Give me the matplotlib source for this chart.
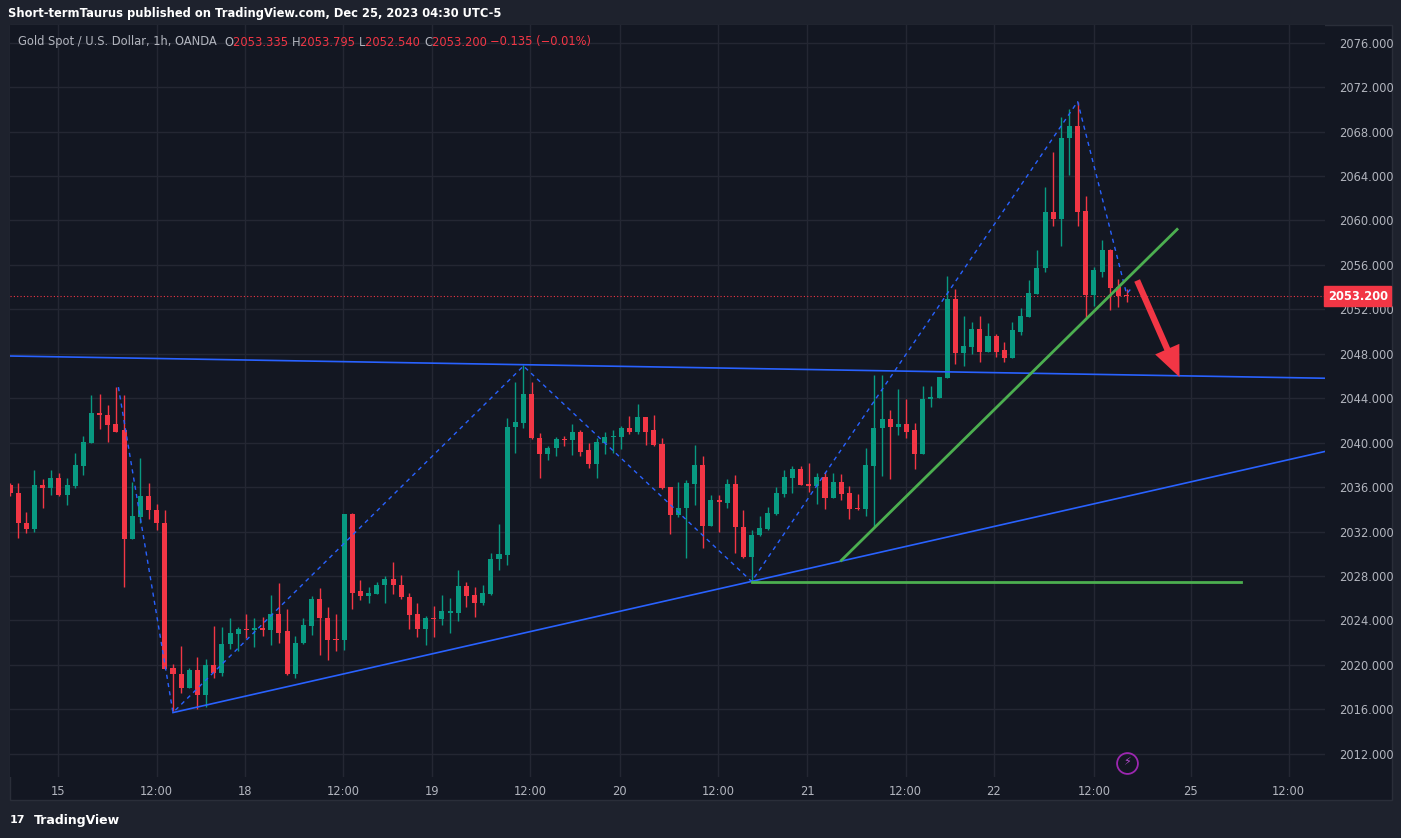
import matplotlib
matplotlib.use('Agg')
import matplotlib.pyplot as plt
from matplotlib.patches import Rectangle
import numpy as np

# hourly OHLC, XAUUSD
opens = [2036.2, 2035.5, 2032.8, 2032.2, 2036.2, 2035.9, 2036.8, 2035.3, 2036.1, 2037.9,
         2040.0, 2042.7, 2042.5, 2041.7, 2041.1, 2031.3, 2033.3, 2035.2, 2033.9, 2032.8,
         2019.7, 2019.2, 2017.9, 2019.5, 2017.3, 2020.0, 2019.3, 2021.9, 2022.8, 2023.2,
         2023.1, 2023.3, 2023.1, 2024.6, 2023.0, 2019.2, 2022.0, 2023.5, 2025.9, 2024.2,
         2022.3, 2022.2, 2033.6, 2026.6, 2026.2, 2026.4, 2027.2, 2027.7, 2027.2, 2026.1,
         2024.6, 2023.2, 2024.2, 2024.1, 2024.7, 2024.7, 2027.1, 2026.3, 2025.6, 2026.4,
         2029.5, 2029.9, 2041.4, 2041.8, 2044.4, 2040.4, 2039.0, 2039.5, 2040.3, 2040.2,
         2041.0, 2039.3, 2038.1, 2040.0, 2040.5, 2040.5, 2041.3, 2041.0, 2042.3, 2041.1,
         2039.9, 2036.0, 2033.5, 2034.1, 2036.3, 2038.0, 2032.5, 2034.8, 2034.6, 2036.3,
         2032.4, 2029.7, 2031.7, 2032.2, 2033.6, 2035.4, 2036.8, 2037.6, 2036.3, 2036.1,
         2036.9, 2035.0, 2036.5, 2035.5, 2034.1, 2034.0, 2037.9, 2041.3, 2042.1, 2041.4,
         2041.7, 2041.1, 2039.0, 2043.9, 2044.0, 2045.8, 2052.9, 2048.1, 2048.6, 2050.2,
         2048.2, 2049.6, 2048.3, 2047.6, 2050.0, 2051.3, 2053.4, 2055.7, 2060.8, 2060.1,
         2067.4, 2068.5, 2060.9, 2053.3, 2055.4, 2057.3, 2054.0, 2053.3]
highs = [2036.4, 2036.4, 2033.8, 2037.5, 2036.7, 2037.5, 2037.3, 2036.8, 2039.1, 2040.6,
         2044.3, 2044.4, 2043.4, 2045.0, 2044.3, 2036.5, 2038.6, 2036.4, 2034.5, 2033.9,
         2020.1, 2021.7, 2019.7, 2020.7, 2020.5, 2023.5, 2023.4, 2024.2, 2023.4, 2024.6,
         2024.2, 2024.3, 2026.3, 2027.4, 2025.0, 2022.6, 2024.2, 2026.2, 2026.9, 2025.2,
         2024.6, 2033.6, 2033.7, 2027.6, 2027.0, 2027.5, 2028.0, 2029.3, 2028.1, 2026.5,
         2025.6, 2024.4, 2025.3, 2026.3, 2026.0, 2028.5, 2027.5, 2027.0, 2027.2, 2030.1,
         2032.7, 2042.2, 2045.5, 2047.0, 2045.5, 2040.9, 2039.7, 2040.5, 2040.6, 2041.7,
         2041.1, 2040.0, 2040.4, 2041.0, 2041.1, 2041.5, 2042.4, 2043.5, 2042.3, 2042.5,
         2040.4, 2036.0, 2036.5, 2036.6, 2039.8, 2038.8, 2035.3, 2035.3, 2036.7, 2037.1,
         2033.9, 2032.1, 2033.4, 2034.2, 2036.0, 2037.5, 2037.9, 2037.9, 2038.2, 2037.3,
         2037.4, 2037.3, 2037.2, 2036.1, 2035.4, 2039.5, 2046.1, 2046.1, 2042.9, 2044.8,
         2043.9, 2041.8, 2045.1, 2045.1, 2045.9, 2055.0, 2053.8, 2051.4, 2050.9, 2051.4,
         2050.8, 2049.8, 2049.1, 2050.9, 2052.1, 2054.6, 2057.3, 2063.0, 2066.2, 2069.3,
         2070.0, 2070.7, 2062.2, 2055.8, 2058.2, 2057.4, 2054.7, 2053.8]
lows = [2035.2, 2031.4, 2031.9, 2032.0, 2034.1, 2035.3, 2035.2, 2034.4, 2035.9, 2037.1,
        2040.0, 2041.2, 2040.1, 2041.0, 2027.0, 2031.3, 2032.8, 2033.1, 2032.1, 2019.6,
        2015.8, 2017.5, 2017.9, 2016.0, 2016.2, 2018.8, 2019.0, 2021.4, 2021.2, 2022.4,
        2021.6, 2022.6, 2021.8, 2022.0, 2019.1, 2018.8, 2021.9, 2022.7, 2020.9, 2020.4,
        2021.2, 2021.3, 2025.0, 2025.8, 2025.6, 2026.4, 2025.6, 2026.4, 2025.9, 2023.2,
        2022.5, 2021.8, 2022.5, 2023.6, 2022.9, 2023.9, 2025.2, 2024.3, 2025.4, 2026.3,
        2028.5, 2029.0, 2039.1, 2041.3, 2040.3, 2036.8, 2038.4, 2038.8, 2039.7, 2038.9,
        2038.8, 2037.7, 2036.8, 2039.0, 2039.1, 2039.4, 2040.8, 2040.8, 2039.8, 2039.7,
        2035.8, 2031.8, 2033.3, 2029.6, 2034.4, 2030.5, 2032.5, 2032.0, 2034.1, 2030.1,
        2029.6, 2027.5, 2031.6, 2032.1, 2033.5, 2035.1, 2035.5, 2036.2, 2035.6, 2034.5,
        2034.0, 2035.0, 2034.8, 2033.1, 2033.9, 2033.4, 2032.4, 2037.0, 2036.7, 2040.7,
        2040.4, 2037.6, 2039.0, 2043.2, 2044.0, 2045.8, 2047.1, 2046.9, 2048.0, 2047.3,
        2048.2, 2047.7, 2047.3, 2047.6, 2049.7, 2051.3, 2053.4, 2055.4, 2059.5, 2057.7,
        2064.1, 2059.5, 2051.2, 2052.3, 2054.9, 2051.9, 2052.2, 2052.7]
closes = [2035.5, 2032.8, 2032.2, 2036.2, 2035.9, 2036.8, 2035.3, 2036.2, 2038.0, 2040.1,
          2042.7, 2042.5, 2041.6, 2041.0, 2031.3, 2033.4, 2035.2, 2033.9, 2032.8, 2019.6,
          2019.2, 2017.9, 2019.5, 2017.3, 2020.0, 2019.3, 2021.9, 2022.9, 2023.2, 2023.1,
          2023.3, 2023.1, 2024.6, 2022.9, 2019.2, 2022.0, 2023.6, 2025.9, 2024.2, 2022.2,
          2022.2, 2033.6, 2026.5, 2026.2, 2026.5, 2027.2, 2027.7, 2027.2, 2026.1, 2024.5,
          2023.2, 2024.2, 2024.1, 2024.8, 2024.8, 2027.1, 2026.2, 2025.6, 2026.5, 2029.5,
          2030.0, 2041.4, 2041.9, 2044.4, 2040.4, 2039.0, 2039.5, 2040.3, 2040.2, 2041.0,
          2039.2, 2038.1, 2040.1, 2040.5, 2040.5, 2041.3, 2041.0, 2042.3, 2041.0, 2039.8,
          2035.9, 2033.5, 2034.1, 2036.4, 2038.0, 2032.5, 2034.8, 2034.7, 2036.3, 2032.4,
          2029.7, 2031.7, 2032.3, 2033.7, 2035.5, 2036.9, 2037.6, 2036.2, 2036.1, 2036.9,
          2035.0, 2036.5, 2035.4, 2034.0, 2034.0, 2038.0, 2041.3, 2042.1, 2041.4, 2041.7,
          2041.0, 2039.0, 2043.9, 2044.1, 2045.9, 2052.9, 2048.1, 2048.7, 2050.2, 2048.2,
          2049.6, 2048.2, 2047.6, 2050.1, 2051.4, 2053.5, 2055.7, 2060.8, 2060.1, 2067.4,
          2068.5, 2060.8, 2053.3, 2055.5, 2057.3, 2053.9, 2053.2, 2053.2]

# time axis labels (positions in bar units)
tick_pos = [5.9, 18.0, 28.8, 40.9, 51.8, 63.8, 74.8, 86.9, 97.8, 109.9, 120.7, 133.0, 144.9, 156.9]
tick_lab = ['15', '12:00', '18', '12:00', '19', '12:00', '20', '12:00', '21', '12:00',
            '22', '12:00', '25', '12:00']
price_ticks = list(range(2012, 2077, 4))

# drawings: (bar, price) pairs
zigzag = [(13.3, 2045.0), (20, 2015.7), (63, 2046.9), (91, 2027.5), (131, 2070.7), (137, 2053.4), (137.6, 2053.9)]
blue_top = [(0, 2047.8), (161.3, 2045.8)]
blue_up = [(20, 2015.7), (161.3, 2039.2)]
green_up = [(102, 2029.4), (143.2, 2059.2)]
green_flat = [(91, 2027.5), (151, 2027.5)]
last_price = 2053.2

BG = '#131722'
GREEN = '#089981'
RED = '#f23645'
GRID = '#242733'
TXT = '#b2b5be'

W, H = 1401, 838
fig = plt.figure(figsize=(W / 100, H / 100), dpi=100, facecolor='#1e222d')
# chart frame
frame = Rectangle((10 / W, 1 - 800 / H), (1392 - 10) / W, (800 - 25) / H,
                  transform=fig.transFigure, facecolor=BG, edgecolor='#2a2e39', lw=1, zorder=-5)
fig.patches.append(frame)
ax = fig.add_axes([10 / W, 1 - 777 / H, (1325 - 10) / W, (777 - 25) / H])
ax.set_zorder(1)
ax.set_facecolor(BG)
ax.set_xlim(0, 161.35)
ax.set_ylim(2009.9, 2077.6)

for yv in price_ticks:
    ax.axhline(yv, color=GRID, lw=1, zorder=0)
for xv in tick_pos:
    ax.axvline(xv, color=GRID, lw=1, zorder=0)

idx = np.arange(len(closes))
o = np.array(opens); c = np.array(closes)
cols = [GREEN if cc >= oo else RED for oo, cc in zip(o, c)]
bottoms = np.minimum(o, c)
heights = np.maximum(np.abs(c - o), 0.12)
ax.vlines(idx, lows, highs, colors=cols, lw=1, zorder=2)
ax.bar(idx, heights, bottom=bottoms, width=0.62, color=cols, zorder=3)

def seg(pts, **kw):
    xs, ys = zip(*pts)
    ax.plot(xs, ys, **kw)

seg(zigzag, color='#2962ff', lw=1, ls=(0, (3, 3)), zorder=4)
seg(blue_top, color='#2962ff', lw=1.2, zorder=4)
seg(blue_up, color='#2962ff', lw=1.2, zorder=4)
seg(green_up, color='#4caf50', lw=2, zorder=4)
seg(green_flat, color='#4caf50', lw=2, zorder=4)
ax.axhline(last_price, color=RED, lw=0.8, ls=(0, (1, 2)), zorder=1)

ax.annotate('', xy=(143.5, 2045.9), xytext=(138.3, 2054.6),
            arrowprops=dict(arrowstyle='simple,head_length=2.2,head_width=1.9,tail_width=0.45',
                            color=RED, lw=0, shrinkA=0, shrinkB=0), zorder=5)

# lightning icon
ax.plot([137.1], [2011.2], marker='o', ms=15, mfc='none', mec='#9c27b0', mew=1.3)
ax.text(137.1, 2011.2, '\u26a1', color='#b44bd0', fontsize=8, ha='center', va='center')

for s in ax.spines.values():
    s.set_visible(False)
ax.yaxis.tick_right()
ax.set_yticks(price_ticks)
ax.set_yticklabels(['%.3f' % v for v in price_ticks])
ax.set_xticks(tick_pos)
ax.set_xticklabels(tick_lab)
ax.tick_params(colors=TXT, labelsize=8.3, length=0)
ax.tick_params(axis='y', pad=10)
ax.tick_params(axis='x', pad=6)

ax.text(1.002, (last_price - 2009.9) / (2077.6 - 2009.9), '%.3f' % last_price, transform=ax.transAxes,
        color='white', fontsize=8.3, fontweight='bold', va='center', ha='left',
        bbox=dict(boxstyle='square,pad=0.3', fc=RED, ec=RED))

# header and legend line
fig.text(8 / W, 1 - 13 / H, 'Short-termTaurus published on TradingView.com, Dec 25, 2023 04:30 UTC-5',
         color='white', fontsize=8.3, fontweight='bold', va='center')
fig.text(10 / W, 1 - 820 / H, '17', color='white', fontsize=8, fontweight='heavy', va='center')
fig.text(34 / W, 1 - 820 / H, 'TradingView', color='white', fontsize=9, fontweight='bold', va='center')

parts = [('Gold Spot / U.S. Dollar, 1h, OANDA  ', TXT), ('O', TXT), ('2053.335 ', RED), ('H', TXT),
         ('2053.795 ', RED), ('L', TXT), ('2052.540 ', RED), ('C', TXT), ('2053.200 ', RED),
         ('\u22120.135 (\u22120.01%)', RED)]
r = fig.canvas.get_renderer()
xpix = 18
for s, col in parts:
    t = fig.text(xpix / W, 1 - 42 / H, s, color=col, fontsize=8.3, va='center')
    xpix += t.get_window_extent(renderer=r).width

plt.savefig('out.png', dpi=100, facecolor=fig.get_facecolor())
